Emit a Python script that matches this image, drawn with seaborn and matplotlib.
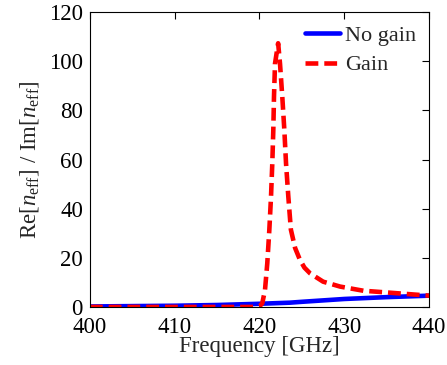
import numpy as np
import pandas as pd
import matplotlib
matplotlib.use('Agg')
import matplotlib.pyplot as plt
import seaborn as sns

# values
freq_nogain = [400, 405, 410, 415, 420, 423.6, 425, 430, 435, 440]
ratio_nogain = [0.2, 0.35, 0.5, 0.8, 1.3, 1.75, 2.1, 3.25, 4.0, 4.6]

freq_gain = [400, 405, 410, 415, 419, 420, 420.33, 420.65, 420.92, 421.16, 421.36,
             421.51, 421.63, 421.71, 421.83, 422.2, 422.42, 422.69, 422.93, 423.13,
             423.4, 423.7, 424.2, 424.78, 425.3, 425.96, 427.5, 429.5, 432.25, 435.4,
             440]
ratio_gain = [0, 0, 0, 0, 0, 0.2, 1.5, 6.9, 17.8, 31.3, 44.9,
              58.4, 72, 85.5, 99, 107.3, 99, 85.5, 72, 58.4,
              44.9, 31.5, 24, 19.1, 16, 13.7, 10.3, 8.3, 6.6, 5.8,
              4.6]

xticks = [400, 410, 420, 430, 440]
yticks = [0, 20, 40, 60, 80, 100, 120]

sns.set_style('white')
plt.rcParams['font.family'] = ['Liberation Serif', 'DejaVu Serif']
plt.rcParams['mathtext.fontset'] = 'custom'
plt.rcParams['mathtext.rm'] = 'Liberation Serif'
plt.rcParams['mathtext.it'] = 'Liberation Serif:italic'

fig, ax = plt.subplots(figsize=(4.47, 3.65), dpi=100)
fig.subplots_adjust(left=0.201, right=0.960, bottom=0.159, top=0.967)

sns.lineplot(x=freq_nogain, y=ratio_nogain, ax=ax, color='#0000ff', lw=3.3, label='No gain')
sns.lineplot(x=freq_gain, y=ratio_gain, ax=ax, color='#ff0000', lw=3.3,
             linestyle=(0, (2.8, 1.3)), label='Gain')

ax.set_xlim(400, 440)
ax.set_ylim(0, 120)
ax.set_xticks(xticks)
ax.set_yticks(yticks)
ax.tick_params(direction='in', top=True, right=True, length=5, width=0.8,
               labelsize=16.5, colors='black')
ax.tick_params(axis='x', pad=7)
ax.tick_params(axis='y', pad=5)
for s in ax.spines.values():
    s.set_color('black')
    s.set_linewidth(0.8)

ax.set_xlabel('Frequency [GHz]', fontsize=16.5, labelpad=-1)
ax.set_ylabel(r'Re[$n_{\mathrm{eff}}$] / Im[$n_{\mathrm{eff}}$]', fontsize=16.5, labelpad=6)

ax.legend(loc='upper right', frameon=False, fontsize=16, handlelength=1.6,
          handletextpad=0.2, labelspacing=0.4, borderaxespad=0.2)

fig.savefig('out.png', dpi=100)
